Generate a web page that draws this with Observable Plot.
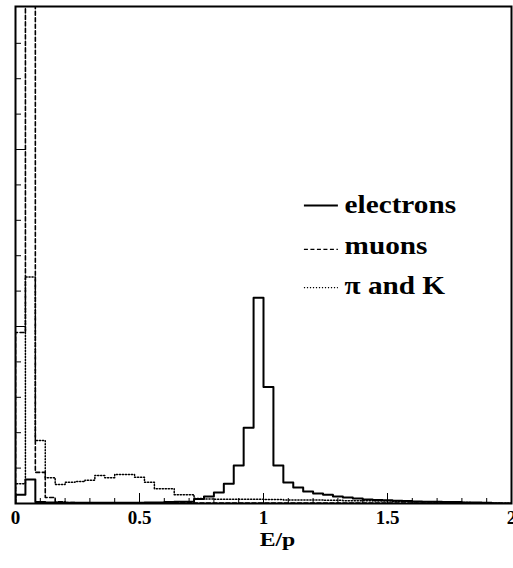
<!DOCTYPE html>
<html><head><meta charset="utf-8">
<script src="https://cdn.jsdelivr.net/npm/d3@7"></script>
<script src="https://cdn.jsdelivr.net/npm/@observablehq/plot@0.6"></script>
<style>
html,body{margin:0;padding:0;background:#fff;}
#chart svg{display:block;}
#chart svg text{font-family:"Liberation Serif","Times New Roman",serif !important;}
</style>
</head><body><div id="chart"></div>
<script>
// Histogram bin edges (E/p)
const binEdges = [0, 0.04, 0.08, 0.12, 0.16, 0.2, 0.24, 0.28, 0.32, 0.36,
  0.4, 0.44, 0.48, 0.52, 0.56, 0.6, 0.64, 0.68, 0.72, 0.76,
  0.8, 0.84, 0.88, 0.92, 0.96, 1, 1.04, 1.08, 1.12, 1.16,
  1.2, 1.24, 1.28, 1.32, 1.36, 1.4, 1.44, 1.48, 1.52, 1.56,
  1.6, 1.64, 1.68, 1.72, 1.76, 1.8, 1.84, 1.88, 1.92, 1.96, 2];

// Bin contents (arbitrary units)
const electrons = [
  0.25, 0.68, 0.04, 0.03, 0.03, 0.02, 0.02, 0.02, 0.02, 0.02,
  0.02, 0.02, 0.02, 0.03, 0.03, 0.04, 0.05, 0.05, 0.13, 0.20,
  0.31, 0.56, 1.07, 2.14, 5.81, 3.29, 1.07, 0.59, 0.45, 0.34,
  0.28, 0.25, 0.20, 0.17, 0.14, 0.11, 0.10, 0.09, 0.08, 0.07,
  0.06, 0.05, 0.05, 0.04, 0.04, 0.03, 0.03, 0.02, 0.01, 0.00];

const muons = [
  4.83, 40.0, 0.88, 0.17, 0.05, 0.03, 0.02, 0.02, 0.02, 0.02,
  0.02, 0.02, 0.02, 0.02, 0.02, 0.02, 0.02, 0.02, 0.01, 0.01,
  0.01, 0.01, 0.01, 0.01, 0.01, 0.01, 0.01, 0.01, 0.01, 0.01,
  0.01, 0.01, 0.01, 0.01, 0.01, 0.01, 0.01, 0.01, 0.01, 0.01,
  0.01, 0.01, 0.01, 0.00, 0.00, 0.00, 0.00, 0.00, 0.00, 0.00];

const pionsKaons = [
  0.56, 6.40, 1.78, 0.73, 0.54, 0.60, 0.62, 0.66, 0.79, 0.73,
  0.82, 0.82, 0.74, 0.60, 0.42, 0.42, 0.25, 0.25, 0.14, 0.13,
  0.12, 0.12, 0.12, 0.12, 0.12, 0.11, 0.11, 0.10, 0.10, 0.10,
  0.10, 0.09, 0.09, 0.08, 0.08, 0.08, 0.07, 0.07, 0.06, 0.06,
  0.05, 0.05, 0.04, 0.04, 0.03, 0.03, 0.02, 0.02, 0.01, 0.01];

const seriesNames = ["electrons", "muons", "π and K"];
const xLabel = "E/p";
const xTicksMajor = [0, 0.5, 1, 1.5, 2];
const xTickLabels = ["0", "0.5", "1", "1.5", "2"];
const xTicksMinor = [0.1, 0.2, 0.3, 0.4, 0.6, 0.7, 0.8, 0.9, 1.1, 1.2, 1.3, 1.4, 1.6, 1.7, 1.8, 1.9];
const yTicksMajor = [5, 10];
const yTicksMinor = [1, 2, 3, 4, 6, 7, 8, 9, 11, 12, 13];

// Layout
const W = 513, H = 568;
const mL = 15, mR = 2, mT = 6, mB = 65;
const innerW = W - mL - mR, innerH = H - mT - mB;
const serif = "Liberation Serif";
const legend = {lineX1: 1.165, lineX2: 1.302, textX: 1.327,
  lineY: [8.42, 7.18, 6.10], textY: [8.22, 7.06, 5.93]};
const legendStretch = 1.17, labelStretch = 1.25;

function steps(values) {
  const pts = [{x: binEdges[0], y: 0}];
  values.forEach((v, i) => pts.push({x: binEdges[i], y: v}));
  pts.push({x: binEdges[values.length], y: values[values.length - 1]});
  pts.push({x: binEdges[values.length], y: 0});
  return pts;
}

const dashes = ["none", "4,2.5", "1.2,1.8"];
const widths = [2, 1.6, 1.5];

const chart = Plot.plot({
  width: W, height: H,
  marginLeft: mL, marginRight: mR, marginTop: mT, marginBottom: mB,
  x: {domain: [0, 2]},
  y: {domain: [0, 14.04], axis: null},
  style: {fontFamily: serif, background: "white", color: "black"},
  marks: [
    Plot.line(steps(pionsKaons), {x: "x", y: "y", curve: "step-after", stroke: "black", strokeWidth: widths[2], strokeDasharray: dashes[2], clip: true}),
    Plot.line(steps(muons), {x: "x", y: "y", curve: "step-after", stroke: "black", strokeWidth: widths[1], strokeDasharray: dashes[1], clip: true}),
    Plot.line(steps(electrons), {x: "x", y: "y", curve: "step-after", stroke: "black", strokeWidth: widths[0], clip: true}),
    // inward ticks
    Plot.ruleX(xTicksMinor, {x: d => d, insetTop: innerH - 5, strokeWidth: 1}),
    Plot.ruleX(xTicksMajor, {x: d => d, insetTop: innerH - 10, strokeWidth: 1}),
    Plot.ruleY(yTicksMinor, {y: d => d, insetRight: innerW - 6, strokeWidth: 1}),
    Plot.ruleY(yTicksMajor, {y: d => d, insetRight: innerW - 11, strokeWidth: 1}),
    Plot.frame({stroke: "black", strokeWidth: 2}),
    Plot.axisX(xTicksMajor, {tickSize: 0, tickPadding: 7, fontSize: 19, fontWeight: "bold", fontFamily: serif, label: null,
      tickFormat: d => xTickLabels[xTicksMajor.indexOf(d)]}),
    Plot.text([xLabel], {frameAnchor: "bottom", dx: 14, dy: 42, lineAnchor: "bottom", fontSize: 19, fontWeight: "bold", fontFamily: serif}),
    // legend
    Plot.ruleY([legend.lineY[0]], {y: d => d, x1: () => legend.lineX1, x2: () => legend.lineX2, stroke: "black", strokeWidth: widths[0]}),
    Plot.ruleY([legend.lineY[1]], {y: d => d, x1: () => legend.lineX1, x2: () => legend.lineX2, stroke: "black", strokeWidth: 1.3, strokeDasharray: dashes[1]}),
    Plot.ruleY([legend.lineY[2]], {y: d => d, x1: () => legend.lineX1, x2: () => legend.lineX2, stroke: "black", strokeWidth: 1.3, strokeDasharray: dashes[2]}),
    Plot.text(seriesNames, {x: () => legend.textX, y: (d, i) => legend.textY[i], text: d => d, textAnchor: "start", lineAnchor: "bottom", fontSize: 25, fontWeight: "bold", fontFamily: serif})
  ]
});

// the reference's text is horizontally stretched: widen glyphs in place
function stretch(sel, k) {
  sel.each(function() {
    const t = this.getAttribute("transform") || "";
    this.setAttribute("transform", (t + ` scale(${k},1)`).trim());
  });
}
stretch(d3.select(chart).selectAll("text").filter(function() { return seriesNames.includes(this.textContent); }), legendStretch);
stretch(d3.select(chart).selectAll("text").filter(function() { return this.textContent === xLabel; }), labelStretch);
document.getElementById("chart").appendChild(chart);
</script>
</body></html>
